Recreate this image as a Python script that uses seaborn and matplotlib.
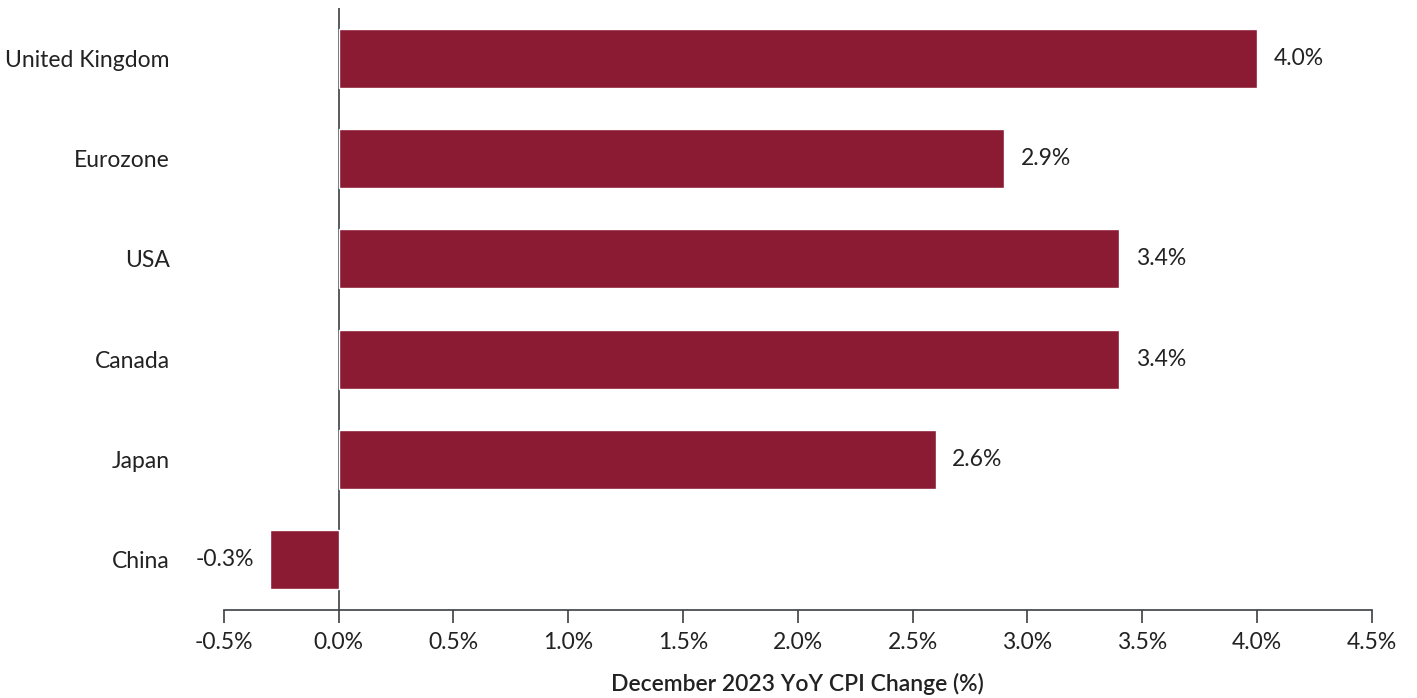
import matplotlib
matplotlib.use("Agg")
import numpy as np
import seaborn as sns
import matplotlib.pyplot as plt

# data
countries = ["United Kingdom", "Eurozone", "USA", "Canada", "Japan", "China"]
cpi_change = [4.0, 2.9, 3.4, 3.4, 2.6, -0.3]
x_ticks = [-0.5, 0.0, 0.5, 1.0, 1.5, 2.0, 2.5, 3.0, 3.5, 4.0, 4.5]

bar_color = "#8B1A33"
axis_color = "#3c4043"
text_color = "#222222"
fs = 16.5

sns.set_style("white")
plt.rcParams["font.family"] = ["Lato", "DejaVu Sans"]

fig = plt.figure(figsize=(14.17, 6.98), dpi=100)
ax = fig.add_axes([0.158, 0.126, 0.81, 0.8625])

sns.barplot(x=cpi_change, y=countries, orient="h", color=bar_color,
            saturation=1, width=0.59, ax=ax)

ax.set_xlim(-0.5, 4.5)
ax.set_ylim(5.5, -0.5)
ax.set_xticks(x_ticks)
ax.set_xticklabels([f"{t:.1f}%" for t in x_ticks])

# zero line instead of left spine
ax.axvline(0, color=axis_color, lw=1.2, zorder=0)

for s in ["top", "right", "left"]:
    ax.spines[s].set_visible(False)
ax.spines["bottom"].set_color(axis_color)
ax.spines["bottom"].set_linewidth(1.2)

ax.tick_params(axis="x", bottom=True, direction="out", length=9, width=1.2,
               color=axis_color, labelsize=fs, labelcolor=text_color, pad=7)
ax.tick_params(axis="y", left=False, length=0, labelsize=fs, labelcolor=text_color, pad=39)

# value labels
for i, v in enumerate(cpi_change):
    if v >= 0:
        ax.annotate(f"{v:.1f}%", (v, i), xytext=(12, 0), textcoords="offset points",
                    ha="left", va="center", fontsize=fs, color=text_color)
    else:
        ax.annotate(f"{v:.1f}%", (v, i), xytext=(-11.5, 0), textcoords="offset points",
                    ha="right", va="center", fontsize=fs, color=text_color)

ax.set_xlabel("December 2023 YoY CPI Change (%)", fontsize=fs, fontweight="semibold",
              color=text_color, labelpad=14)
ax.set_ylabel("")

fig.savefig("out.png", dpi=100)
